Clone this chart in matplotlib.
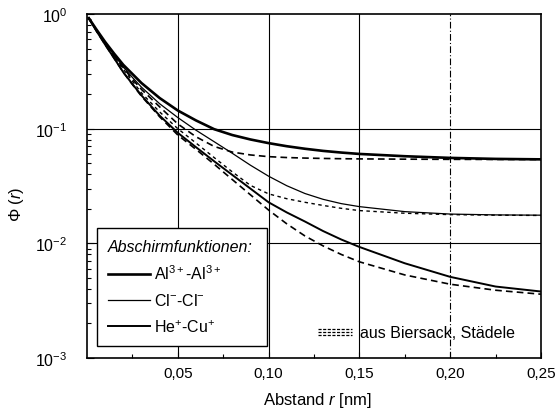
import matplotlib
matplotlib.use("Agg")
import matplotlib.pyplot as plt
from matplotlib.lines import Line2D
from matplotlib.ticker import FixedLocator, FixedFormatter, LogLocator, NullFormatter

plt.rcParams['font.family'] = ['Liberation Sans', 'DejaVu Sans']
plt.rcParams['mathtext.fontset'] = 'custom'
plt.rcParams['mathtext.rm'] = 'Liberation Sans'
plt.rcParams['mathtext.it'] = 'Liberation Sans:italic'
plt.rcParams['mathtext.bf'] = 'Liberation Sans:bold'

# ---- data ----
r = [0.001, 0.005, 0.01, 0.015, 0.02, 0.025, 0.03, 0.04, 0.05, 0.06, 0.07, 0.08,
     0.09, 0.10, 0.11, 0.12, 0.13, 0.14, 0.15, 0.175, 0.20, 0.225, 0.25]

al_solid = [0.92, 0.74, 0.57, 0.45, 0.36, 0.30, 0.25, 0.185, 0.144, 0.118, 0.099, 0.088,
            0.0805, 0.0748, 0.0703, 0.0668, 0.0640, 0.0619, 0.0602, 0.0575, 0.0556, 0.0545, 0.054]
al_dashed = [0.92, 0.73, 0.555, 0.43, 0.34, 0.27, 0.22, 0.155, 0.110, 0.085, 0.070, 0.0625,
             0.0590, 0.0570, 0.0560, 0.0554, 0.0550, 0.0547, 0.0545, 0.0542, 0.0540, 0.0539, 0.0538]
cl_solid = [0.92, 0.73, 0.56, 0.44, 0.345, 0.28, 0.23, 0.165, 0.125, 0.097, 0.077, 0.061,
            0.048, 0.0385, 0.0318, 0.0272, 0.0242, 0.0222, 0.0209, 0.0189, 0.0180, 0.0177, 0.0176]
cl_dashed = [0.92, 0.72, 0.55, 0.425, 0.33, 0.26, 0.205, 0.14, 0.100, 0.075, 0.056, 0.042,
             0.032, 0.027, 0.0245, 0.0228, 0.0214, 0.0202, 0.0193, 0.0183, 0.0178, 0.0176, 0.0175]
he_solid = [0.92, 0.72, 0.54, 0.41, 0.31, 0.245, 0.195, 0.13, 0.092, 0.069, 0.052, 0.0395,
            0.030, 0.0228, 0.0186, 0.0155, 0.0128, 0.0108, 0.0093, 0.0067, 0.0051, 0.0042, 0.0038]
he_dashed = [0.92, 0.72, 0.54, 0.41, 0.31, 0.243, 0.192, 0.127, 0.088, 0.066, 0.049, 0.036,
             0.0265, 0.0195, 0.0148, 0.0116, 0.0095, 0.0080, 0.0069, 0.0053, 0.0044, 0.0039, 0.0036]

legend_labels = [r'Al$^{3+}$-Al$^{3+}$', r'Cl$^{-}$-Cl$^{-}$', r'He$^{+}$-Cu$^{+}$']
legend_title = 'Abschirmfunktionen:'
source_text = 'aus Biersack, Städele'

xticks = [0.05, 0.10, 0.15, 0.20, 0.25]
xticklabels = ['0,05', '0,10', '0,15', '0,20', '0,25']
yticks = [1e-3, 1e-2, 1e-1, 1e0]
yticklabels = [r'$10^{-3}$', r'$10^{-2}$', r'$10^{-1}$', r'$10^{0}$']

# ---- figure ----
fig = plt.figure(figsize=(5.55, 4.10), dpi=100)
ax = fig.add_axes([87/555, 51/410, 454/555, 344/410])

ax.set_yscale('log')
ax.set_xlim(0, 0.25)
ax.set_ylim(1e-3, 1)

# grid
for g in [0.05, 0.10, 0.15]:
    ax.axvline(g, color='black', lw=0.8, zorder=1)
ax.axvline(0.20, color='black', lw=0.8, ls=(0, (6, 2, 1, 2)), zorder=1)
for g in [1e-1, 1e-2]:
    ax.axhline(g, color='black', lw=0.8, zorder=1)

# curves
ax.plot(r, al_solid, color='black', lw=1.9, zorder=3)
ax.plot(r, cl_solid, color='black', lw=0.9, zorder=3)
ax.plot(r, he_solid, color='black', lw=1.4, zorder=3)
ax.plot(r, al_dashed, color='black', lw=1.2, ls=(0, (4, 2.5)), zorder=3)
ax.plot(r, cl_dashed, color='black', lw=1.0, ls=(0, (2.5, 2.5)), zorder=3)
ax.plot(r, he_dashed, color='black', lw=1.2, ls=(0, (4, 2.5)), zorder=3)

# ticks
ax.xaxis.set_major_locator(FixedLocator(xticks))
ax.xaxis.set_major_formatter(FixedFormatter(xticklabels))
ax.xaxis.set_minor_locator(FixedLocator([0.025, 0.075, 0.125, 0.175, 0.225]))
ax.yaxis.set_major_locator(FixedLocator(yticks))
ax.yaxis.set_major_formatter(FixedFormatter(yticklabels))
ax.yaxis.set_minor_locator(LogLocator(base=10, subs=range(2, 10)))
ax.yaxis.set_minor_formatter(NullFormatter())

ax.tick_params(axis='x', which='major', direction='in', length=4, width=0.8,
               pad=6, labelsize=11, top=False)
ax.tick_params(axis='x', which='minor', direction='in', length=3, width=0.8, top=False)
ax.tick_params(axis='y', which='major', direction='in', length=5, width=0.8,
               pad=14, labelsize=11.5, right=False)
ax.tick_params(axis='y', which='minor', direction='in', length=3, width=0.8, right=False)

for s in ax.spines.values():
    s.set_linewidth(1.2)
    s.set_color('black')

ax.set_xlabel(r'Abstand $\mathit{r}$ [nm]', fontsize=12)
ax.xaxis.set_label_coords(0.508, -0.093)
ax.set_ylabel(r'Φ ($\mathit{r}$)', fontsize=12)
ax.yaxis.set_label_coords(-0.134, 0.45)

# legend
handles = [Line2D([], [], color='black', lw=1.9),
           Line2D([], [], color='black', lw=0.9),
           Line2D([], [], color='black', lw=1.4)]
leg = ax.legend(handles, legend_labels, title=legend_title, loc='lower left',
                bbox_to_anchor=(0.022, 0.035, 0.374, 0.34), mode='expand',
                frameon=True, fancybox=False,
                edgecolor='black', framealpha=1, fontsize=11.5, title_fontsize=11.5,
                handlelength=2.6, handletextpad=0.25, labelspacing=0.62,
                borderpad=0.7, borderaxespad=0, alignment='left')
leg.get_frame().set_linewidth(1.0)
leg.get_title().set_fontstyle('italic')
leg.set_zorder(5)

# source note with three stacked dashed samples
for yy in [0.084, 0.076, 0.068]:
    ax.plot([0.127, 0.146], [10 ** (-3 + 3 * yy)] * 2, color='black', lw=0.9,
            ls=(0, (2.5, 1.2)), zorder=4)
ax.text(0.602, 0.073, source_text, transform=ax.transAxes, fontsize=11.5,
        va='center', ha='left', zorder=4)

fig.savefig('out.png', dpi=100)
